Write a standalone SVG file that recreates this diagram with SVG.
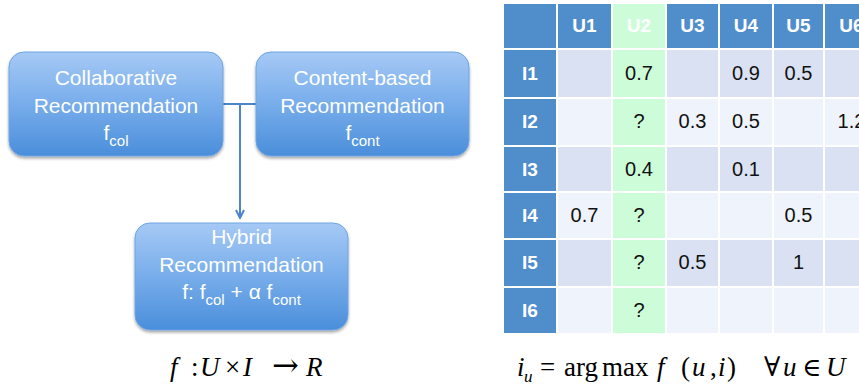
<svg xmlns="http://www.w3.org/2000/svg" width="859" height="388" viewBox="0 0 859 388">
<defs>
<linearGradient id="boxg" x1="0" y1="0" x2="0" y2="1">
<stop offset="0" stop-color="#a6c9f5"/>
<stop offset="0.45" stop-color="#7cb0ec"/>
<stop offset="1" stop-color="#4a8edb"/>
</linearGradient>
<filter id="sh" x="-10%" y="-10%" width="120%" height="130%">
<feGaussianBlur in="SourceAlpha" stdDeviation="1.5"/>
<feOffset dx="0" dy="2" result="b"/>
<feComponentTransfer><feFuncA type="linear" slope="0.35"/></feComponentTransfer>
<feMerge><feMergeNode/><feMergeNode in="SourceGraphic"/></feMerge>
</filter>
<marker id="arr" viewBox="0 0 10 10" refX="9" refY="5" markerWidth="10" markerHeight="10" markerUnits="userSpaceOnUse" orient="auto">
<path d="M1,1 L9,5 L1,9" fill="none" stroke="#4a86c8" stroke-width="2"/>
</marker>
</defs>
<style>
.box{fill:url(#boxg);stroke:#6ea4e4;stroke-width:1;filter:url(#sh)}
.bt{font-family:"Liberation Sans",Arial,sans-serif;font-size:21px;fill:#ffffff;text-anchor:middle}
.sub{font-size:15px}
.conn{stroke:#4a86c8;stroke-width:2;fill:none}
.hd{fill:#4f8dcb}
.ro{fill:#d9e1f2}
.re{fill:#eff3fb}
.gr{fill:#cdfcd8}
.ht{font-family:"Liberation Sans",Arial,sans-serif;font-size:19px;font-weight:bold;fill:#ffffff;text-anchor:middle}
.dt{font-family:"Liberation Sans",Arial,sans-serif;font-size:20px;fill:#111111;text-anchor:middle}
.math{font-family:"Liberation Serif","Times New Roman","DejaVu Serif",serif;font-size:27px;fill:#000000}
.sym{font-family:"DejaVu Serif",serif}
.it{font-style:italic}
</style>
<rect width="859" height="388" fill="#ffffff"/>

<g id="connectors">
<line class="conn" x1="223" y1="104" x2="256" y2="104"/>
<line class="conn" x1="240" y1="104" x2="240" y2="218" marker-end="url(#arr)"/>
</g>

<g id="node-collab">
<rect class="box" x="9" y="52" width="214" height="104" rx="15"/>
<text class="bt" x="116" y="85">Collaborative</text>
<text class="bt" x="116" y="113">Recommendation</text>
<text class="bt" x="116" y="140">f<tspan class="sub" dy="6">col</tspan></text>
</g>

<g id="node-content">
<rect class="box" x="256" y="52" width="213" height="104" rx="15"/>
<text class="bt" x="362.5" y="85">Content-based</text>
<text class="bt" x="362.5" y="113">Recommendation</text>
<text class="bt" x="362.5" y="140">f<tspan class="sub" dy="6">cont</tspan></text>
</g>

<g id="node-hybrid">
<rect class="box" x="135" y="223" width="213" height="107" rx="15"/>
<text class="bt" x="241.5" y="244">Hybrid</text>
<text class="bt" x="241.5" y="272">Recommendation</text>
<text class="bt" x="241.5" y="299">f: f<tspan class="sub" dy="6">col</tspan><tspan dy="-6"> + α f</tspan><tspan class="sub" dy="6">cont</tspan></text>
</g>

<g id="table">
<g id="row-header">
<rect class="hd" x="504" y="4" width="52" height="44"/>
<rect class="hd" x="558" y="4" width="53" height="44"/>
<rect class="gr" x="613" y="4" width="52" height="44"/>
<rect class="hd" x="667" y="4" width="51" height="44"/>
<rect class="hd" x="720" y="4" width="52" height="44"/>
<rect class="hd" x="774" y="4" width="49" height="44"/>
<rect class="hd" x="825" y="4" width="53" height="44"/>
<text class="ht" x="584.5" y="32">U1</text>
<text class="ht" x="639" y="32">U2</text>
<text class="ht" x="692.5" y="32">U3</text>
<text class="ht" x="746" y="32">U4</text>
<text class="ht" x="798.5" y="32">U5</text>
<text class="ht" x="851.5" y="32">U6</text>
</g>
<g id="row-I1">
<rect class="hd" x="504" y="50" width="52" height="47"/>
<rect class="ro" x="558" y="50" width="53" height="47"/>
<rect class="gr" x="613" y="50" width="52" height="47"/>
<rect class="ro" x="667" y="50" width="51" height="47"/>
<rect class="ro" x="720" y="50" width="52" height="47"/>
<rect class="ro" x="774" y="50" width="49" height="47"/>
<rect class="ro" x="825" y="50" width="53" height="47"/>
<text class="ht" x="530" y="80">I1</text>
<text class="dt" x="639" y="80">0.7</text>
<text class="dt" x="746" y="80">0.9</text>
<text class="dt" x="798.5" y="80">0.5</text>
</g>
<g id="row-I2">
<rect class="hd" x="504" y="99" width="52" height="46"/>
<rect class="re" x="558" y="99" width="53" height="46"/>
<rect class="gr" x="613" y="99" width="52" height="46"/>
<rect class="re" x="667" y="99" width="51" height="46"/>
<rect class="re" x="720" y="99" width="52" height="46"/>
<rect class="re" x="774" y="99" width="49" height="46"/>
<rect class="re" x="825" y="99" width="53" height="46"/>
<text class="ht" x="530" y="128">I2</text>
<text class="dt" x="639" y="128">?</text>
<text class="dt" x="692.5" y="128">0.3</text>
<text class="dt" x="746" y="128">0.5</text>
<text class="dt" x="851.5" y="128">1.2</text>
</g>
<g id="row-I3">
<rect class="hd" x="504" y="147" width="52" height="44"/>
<rect class="ro" x="558" y="147" width="53" height="44"/>
<rect class="gr" x="613" y="147" width="52" height="44"/>
<rect class="ro" x="667" y="147" width="51" height="44"/>
<rect class="ro" x="720" y="147" width="52" height="44"/>
<rect class="ro" x="774" y="147" width="49" height="44"/>
<rect class="ro" x="825" y="147" width="53" height="44"/>
<text class="ht" x="530" y="176">I3</text>
<text class="dt" x="639" y="176">0.4</text>
<text class="dt" x="746" y="176">0.1</text>
</g>
<g id="row-I4">
<rect class="hd" x="504" y="193" width="52" height="45"/>
<rect class="re" x="558" y="193" width="53" height="45"/>
<rect class="gr" x="613" y="193" width="52" height="45"/>
<rect class="re" x="667" y="193" width="51" height="45"/>
<rect class="re" x="720" y="193" width="52" height="45"/>
<rect class="re" x="774" y="193" width="49" height="45"/>
<rect class="re" x="825" y="193" width="53" height="45"/>
<text class="ht" x="530" y="222">I4</text>
<text class="dt" x="584.5" y="222">0.7</text>
<text class="dt" x="639" y="222">?</text>
<text class="dt" x="798.5" y="222">0.5</text>
</g>
<g id="row-I5">
<rect class="hd" x="504" y="240" width="52" height="46"/>
<rect class="ro" x="558" y="240" width="53" height="46"/>
<rect class="gr" x="613" y="240" width="52" height="46"/>
<rect class="ro" x="667" y="240" width="51" height="46"/>
<rect class="ro" x="720" y="240" width="52" height="46"/>
<rect class="ro" x="774" y="240" width="49" height="46"/>
<rect class="ro" x="825" y="240" width="53" height="46"/>
<text class="ht" x="530" y="269">I5</text>
<text class="dt" x="639" y="269">?</text>
<text class="dt" x="692.5" y="269">0.5</text>
<text class="dt" x="798.5" y="269">1</text>
</g>
<g id="row-I6">
<rect class="hd" x="504" y="288" width="52" height="45"/>
<rect class="re" x="558" y="288" width="53" height="45"/>
<rect class="gr" x="613" y="288" width="52" height="45"/>
<rect class="re" x="667" y="288" width="51" height="45"/>
<rect class="re" x="720" y="288" width="52" height="45"/>
<rect class="re" x="774" y="288" width="49" height="45"/>
<rect class="re" x="825" y="288" width="53" height="45"/>
<text class="ht" x="530" y="317">I6</text>
<text class="dt" x="639" y="317">?</text>
</g>
</g>

<g id="formula-left">
<text class="math" y="376"><tspan class="it" x="170">f</tspan><tspan x="191">:</tspan><tspan class="it" x="200">U</tspan><tspan x="225">×</tspan><tspan class="it" x="243">I</tspan><tspan class="sym" x="272" font-size="32">→</tspan><tspan class="it" x="306">R</tspan></text>
</g>
<g id="formula-right">
<text class="math" y="376"><tspan class="it" x="517">i</tspan><tspan class="it" x="524" dy="6" font-size="17">u</tspan><tspan x="540" dy="-6">=</tspan><tspan x="564">arg</tspan><tspan x="602">max</tspan><tspan class="it" x="657">f</tspan><tspan x="681">(</tspan><tspan class="it" x="692">u</tspan><tspan x="710">,</tspan><tspan class="it" x="718">i</tspan><tspan x="727">)</tspan><tspan x="764">∀</tspan><tspan class="it" x="783">u</tspan><tspan class="sym" x="802" font-size="26">∈</tspan><tspan class="it" x="826">U</tspan></text>
</g>
</svg>
